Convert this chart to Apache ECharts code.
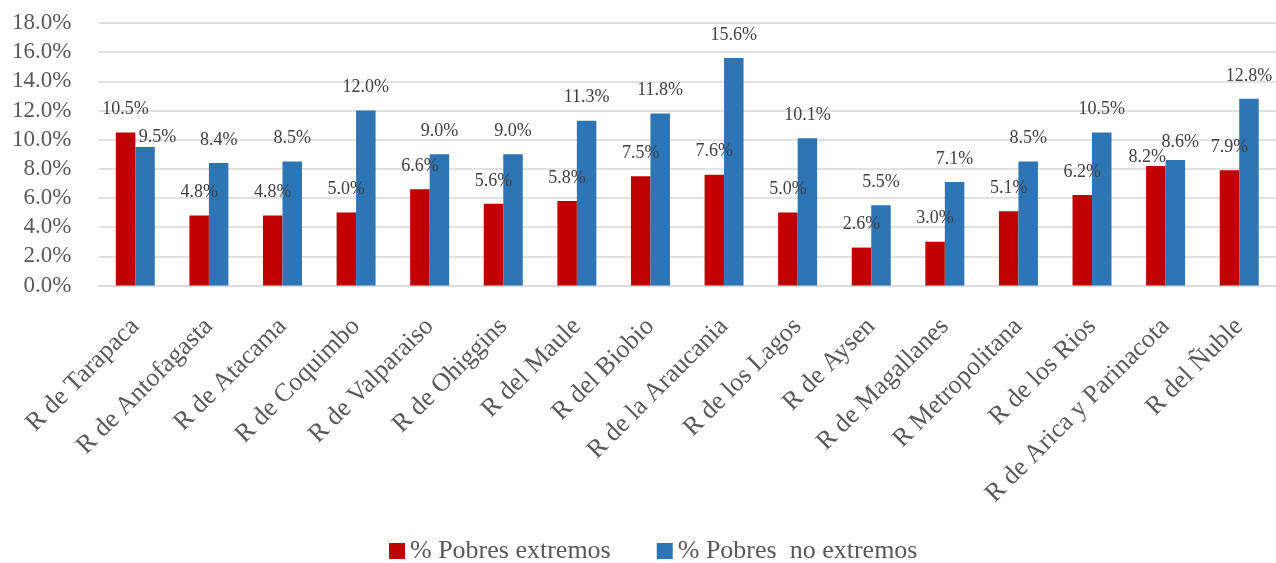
<!DOCTYPE html>
<html><head><meta charset="utf-8">
<script src="https://cdn.jsdelivr.net/npm/echarts@6/dist/echarts.min.js"></script>
<style>html,body{margin:0;padding:0;background:#fff}#c{width:1276px;height:563px}</style>
</head><body><div id="c"></div>
<script>
const categories = ["R de Tarapaca","R de Antofagasta","R de Atacama","R de Coquimbo","R de Valparaiso","R de Ohiggins","R del Maule","R del Biobio","R de la Araucania","R de los Lagos","R de Aysen","R de Magallanes","R Metropolitana","R de los Rios","R de Arica y Parinacota","R del Ñuble"];
const extremos = [10.5,4.8,4.8,5.0,6.6,5.6,5.8,7.5,7.6,5.0,2.6,3.0,5.1,6.2,8.2,7.9];
const noExtremos = [9.5,8.4,8.5,12.0,9.0,9.0,11.3,11.8,15.6,10.1,5.5,7.1,8.5,10.5,8.6,12.8];
const seriesNames = ["% Pobres extremos","% Pobres  no extremos"];

const FONT = '"Liberation Serif", serif';
// label nudges (styling only) for labels that the original moved to avoid overlaps
const nudgeRed = {14:[-8.5,14]};
const nudgeBlue = {0:[12.5,13], 14:[5,5]};
function build(values, nudges){
  return values.map((v,i)=> nudges[i] ? {value:v, label:{offset:nudges[i]}} : v);
}
const chart = echarts.init(document.getElementById('c'));
const labelCfg = {show:true, position:'top', distance:14, fontFamily:FONT, fontSize:18, color:'#404040',
  formatter: p => p.value.toFixed(1) + '%'};
chart.setOption({
  animation:false,
  textStyle:{fontFamily:FONT},
  grid:{left:98.5, right:0, top:23, bottom:277.5},
  legend:{top:538, left:389, padding:0, itemWidth:16, itemHeight:16, itemGap:46, icon:'rect',
    textStyle:{fontFamily:FONT, fontSize:26, color:'#595959'},
    data:seriesNames},
  xAxis:{type:'category', data:categories,
    axisLine:{show:true, lineStyle:{color:'#d9d9d9', width:1.5}},
    axisTick:{show:false},
    axisLabel:{rotate:45, interval:0, margin:37, padding:[28,0,0,0], fontFamily:FONT, fontSize:26, color:'#595959'}},
  yAxis:{type:'value', min:0, max:18, interval:2,
    axisLine:{show:false}, axisTick:{show:false},
    splitLine:{lineStyle:{color:'#d9d9d9', width:1.5}},
    axisLabel:{margin:27, fontFamily:FONT, fontSize:23, color:'#595959', formatter:v=>v.toFixed(1)+'%'}},
  series:[
    {name:seriesNames[0], type:'bar', data:build(extremos,nudgeRed), barWidth:19.5, barGap:'0%',
     itemStyle:{color:'#c00000'}, label:labelCfg},
    {name:seriesNames[1], type:'bar', data:build(noExtremos,nudgeBlue), barWidth:19.5,
     itemStyle:{color:'#2e75b6'}, label:labelCfg}
  ]
});
</script></body></html>
